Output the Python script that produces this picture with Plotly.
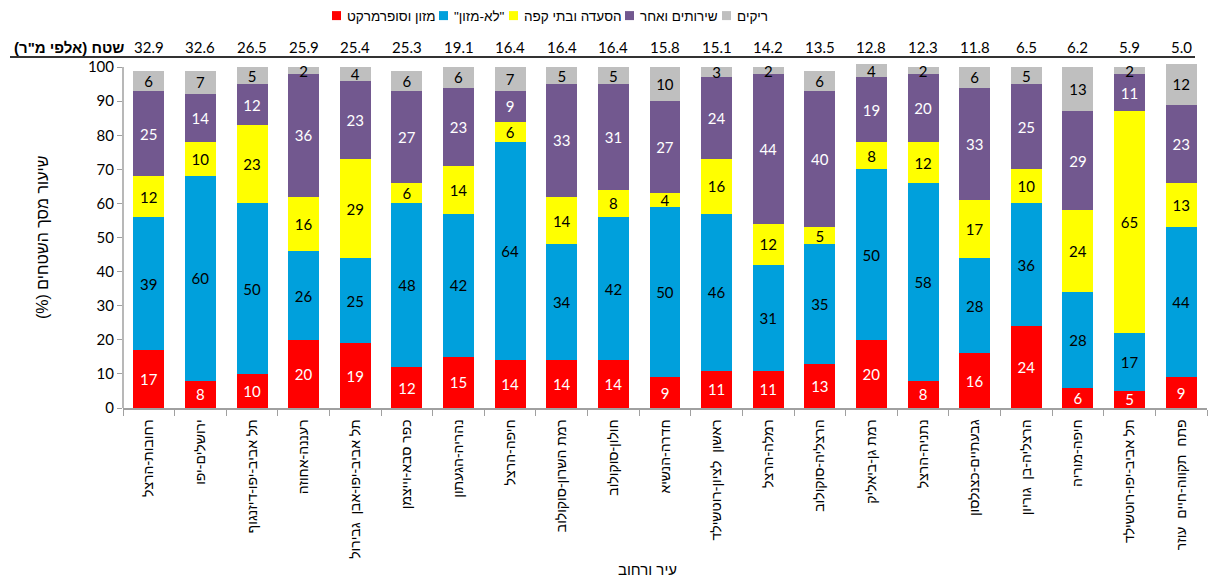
import plotly.graph_objects as go

categories = ["רחובות-הרצל", "ירושלים-יפו", "תל אביב-יפו-דיזנגוף", "רעננה-אחוזה",
              "תל אביב-יפו-אבן  גבירול", "כפר סבא-וייצמן", "נהריה-הגעתון", "חיפה-הרצל",
              "רמת השרון-סוקולוב", "חולון-סוקולוב", "חדרה-הנשיא", "ראשון  לציון-רוטשילד",
              "רמלה-הרצל", "הרצליה-סוקולוב", "רמת גן-ביאליק", "נתניה-הרצל",
              "גבעתיים-כצנלסון", "הרצליה-בן  גוריון", "חיפה-מוריה", "תל אביב-יפו-רוטשילד",
              "פתח  תקווה-חיים  עוזר"]
area = ["32.9", "32.6", "26.5", "25.9", "25.4", "25.3", "19.1", "16.4", "16.4", "16.4", "15.8",
        "15.1", "14.2", "13.5", "12.8", "12.3", "11.8", "6.5", "6.2", "5.9", "5.0"]
food = [17, 8, 10, 20, 19, 12, 15, 14, 14, 14, 9, 11, 11, 13, 20, 8, 16, 24, 6, 5, 9]
nonfood = [39, 60, 50, 26, 25, 48, 42, 64, 34, 42, 50, 46, 31, 35, 50, 58, 28, 36, 28, 17, 44]
dining = [12, 10, 23, 16, 29, 6, 14, 6, 14, 8, 4, 16, 12, 5, 8, 12, 17, 10, 24, 65, 13]
services = [25, 14, 12, 36, 23, 27, 23, 9, 33, 31, 27, 24, 44, 40, 19, 20, 33, 25, 29, 11, 23]
vacant = [6, 7, 5, 2, 4, 6, 6, 7, 5, 5, 10, 3, 2, 6, 4, 2, 6, 5, 13, 2, 12]

series_names = ["מזון וסופרמרקט", "\"לא-מזון\"", "הסעדה ובתי קפה", "שירותים ואחר", "ריקים"]
series_vals = [food, nonfood, dining, services, vacant]
colors = ["#FF0000", "#00A0DC", "#FFFF00", "#72588F", "#BFBFBF"]
label_colors = ["white", "black", "black", "white", "black"]

RLM = "\u200f"
NUMFONT = "Lato, 'Liberation Sans', sans-serif"
HEBFONT = "'Liberation Sans', 'DejaVu Sans', sans-serif"

W, H = 1208, 579
YMAX = 101.2
L, R, B = 123, 1207, 408
PX_PER_UNIT = (408 - 67) / 100.0
T = B - YMAX * PX_PER_UNIT

def px2x(px):
    return (px - L) / (R - L)

def py2y(py):
    return (B - py) / (B - T)

fig = go.Figure()
for name, vals, col, lc in zip(series_names, series_vals, colors, label_colors):
    fig.add_trace(go.Bar(
        x=categories, y=vals, name=name, marker=dict(color=col, line=dict(width=0)),
        text=[str(v) for v in vals], textposition="inside", insidetextanchor="middle",
        textangle=0, constraintext="none", cliponaxis=False,
        insidetextfont=dict(color=lc, size=15, family=NUMFONT),
        showlegend=False, hoverinfo="skip"))

ticktext = [RLM + c.replace("  ", "\u00a0\u00a0") + RLM for c in categories]

fig.update_layout(
    width=W, height=H, barmode="stack", bargap=0.4,
    margin=dict(l=L, r=W - R, t=T, b=H - B, pad=0),
    plot_bgcolor="white", paper_bgcolor="white",
    font=dict(family=HEBFONT, color="black"),
    xaxis=dict(tickmode="array", tickvals=categories, ticktext=ticktext, tickangle=-90,
               tickfont=dict(size=14, family=HEBFONT), ticks="outside", tickson="boundaries",
               ticklen=6, tickcolor="#A0A0A0", showline=True, linecolor="#A0A0A0",
               linewidth=1.5, showgrid=False, range=[-0.5, 20.5], ticklabelstandoff=4),
    yaxis=dict(range=[0, YMAX], tickvals=list(range(0, 101, 10)), ticks="outside", ticklen=5,
               tickcolor="#A0A0A0", showline=False, showgrid=False,
               ticksuffix="\u00a0\u00a0", zeroline=False,
               tickfont=dict(size=15, family=NUMFONT)),
)

ann = []
# area numbers on top
for c, a in zip(categories, area):
    ann.append(dict(x=c, xref="x", y=py2y(47), yref="paper", text=a, showarrow=False,
                    font=dict(size=15, family=NUMFONT), xanchor="center", yanchor="middle"))
ann.append(dict(x=px2x(126), y=py2y(47), xref="paper", yref="paper",
                text="<b>" + RLM + "שטח (אלפי מ\"ר)" + RLM + "</b>", showarrow=False,
                font=dict(size=15, family=HEBFONT), xanchor="right", yanchor="middle"))
# axis titles
ann.append(dict(x=px2x(42), y=py2y(238), xref="paper", yref="paper", textangle=-90,
                text=RLM + "שיעור מסך השטחים (%)" + RLM, showarrow=False,
                font=dict(size=16, family=HEBFONT), xanchor="center", yanchor="middle"))
ann.append(dict(x=px2x(647), y=py2y(570), xref="paper", yref="paper",
                text=RLM + "עיר ורחוב" + RLM, showarrow=False,
                font=dict(size=15, family=HEBFONT), xanchor="center", yanchor="middle"))

shapes = []
# y axis line from 0 to 100
shapes.append(dict(type="line", xref="paper", yref="y", x0=0, x1=0, y0=0, y1=100,
                   line=dict(color="#A0A0A0", width=1.5)))
# manual legend
sq_left = [332, 439, 509, 625, 722]
for name, col, sx in zip(series_names, colors, sq_left):
    shapes.append(dict(type="rect", xref="paper", yref="paper",
                       x0=px2x(sx), x1=px2x(sx + 9), y0=py2y(20), y1=py2y(11),
                       fillcolor=col, line=dict(width=0)))
    ann.append(dict(x=px2x(sx + 13), y=py2y(16), xref="paper", yref="paper",
                    text=RLM + name + RLM, showarrow=False,
                    font=dict(size=13.5, family=HEBFONT), xanchor="left", yanchor="middle"))
# separator line under area numbers
shapes.append(dict(type="line", xref="paper", yref="paper", x0=px2x(10), x1=px2x(1195),
                   y0=py2y(57), y1=py2y(57), line=dict(color="#333333", width=2)))

fig.update_layout(annotations=ann, shapes=shapes)
fig.write_html("out.html")
